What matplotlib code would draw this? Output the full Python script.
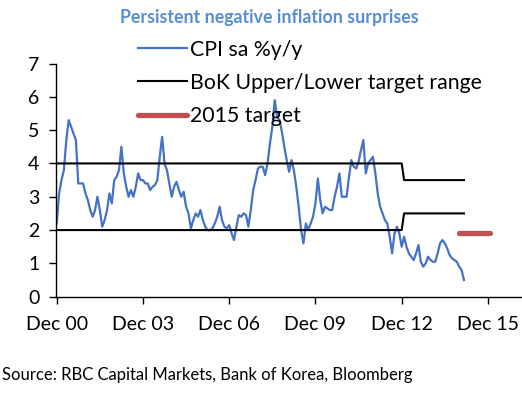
import matplotlib
matplotlib.use("Agg")
import matplotlib.pyplot as plt
from matplotlib.lines import Line2D
import numpy as np

plt.rcParams['font.family'] = ['Lato', 'DejaVu Sans']

# Monthly CPI sa %y/y, Dec 2000 .. Feb 2015
cpi = [
    2.2,                                                   # Dec 00
    3.1, 3.5, 3.8, 4.7, 5.3, 5.1, 4.9, 4.7, 3.4, 3.4, 3.4, 3.1,   # 2001
    2.9, 2.6, 2.4, 2.6, 3.0, 2.6, 2.1, 2.3, 2.6, 3.1, 2.8, 3.5,   # 2002
    3.6, 3.8, 4.5, 3.7, 3.3, 3.0, 3.2, 3.0, 3.3, 3.7, 3.5, 3.5,   # 2003
    3.4, 3.4, 3.2, 3.3, 3.35, 3.5, 4.2, 4.8, 4.0, 3.8, 3.4, 3.0,  # 2004
    3.3, 3.45, 3.2, 3.0, 3.15, 2.7, 2.5, 2.05, 2.3, 2.5, 2.4, 2.6,  # 2005
    2.3, 2.1, 2.0, 2.0, 2.05, 2.2, 2.4, 2.7, 2.3, 2.1, 2.05, 2.15,  # 2006
    1.9, 1.7, 2.1, 2.45, 2.4, 2.5, 2.45, 2.1, 2.6, 3.2, 3.5, 3.85,  # 2007
    3.9, 3.9, 3.65, 4.0, 4.6, 5.1, 5.9, 5.4, 5.3, 4.95, 4.5, 4.1,   # 2008
    3.75, 4.1, 3.8, 3.3, 2.7, 2.0, 1.6, 2.2, 2.0, 2.2, 2.4, 2.8,    # 2009
    3.55, 2.9, 2.5, 2.7, 2.65, 2.6, 2.6, 3.0, 3.3, 3.7, 3.0, 3.0,   # 2010
    3.0, 3.6, 4.1, 3.9, 3.85, 4.05, 4.4, 4.7, 3.7, 4.0, 4.1, 4.2,   # 2011
    3.7, 3.1, 2.7, 2.5, 2.3, 2.2, 1.8, 1.3, 1.9, 2.1, 1.9, 1.5,     # 2012
    1.8, 1.5, 1.3, 1.2, 1.1, 1.3, 1.55, 1.05, 0.9, 1.0, 1.2, 1.1,   # 2013
    1.05, 1.05, 1.3, 1.6, 1.7, 1.6, 1.45, 1.25, 1.15, 1.1, 1.05, 0.9,  # 2014
    0.8, 0.5,                                              # 2015
]
months = list(range(len(cpi)))

# BoK target range (upper / lower), Dec 00 .. Feb 15
bok_upper = [4.0] * 145 + [3.5] * 26
bok_lower = [2.0] * 145 + [2.5] * 26

# 2015 target
target_months = list(range(168, 182))
target_vals = [1.9] * len(target_months)

tick_months = [0, 36, 72, 108, 144, 180]
tick_labels = ["Dec 00", "Dec 03", "Dec 06", "Dec 09", "Dec 12", "Dec 15"]
y_ticks = [0, 1, 2, 3, 4, 5, 6, 7]

W, H = 522, 393
fig = plt.figure(figsize=(W / 100, H / 100), dpi=100)
ax = fig.add_axes([56 / W, 1 - 296.7 / H, (521 - 56) / W, (296.7 - 63.5) / H])

l_cpi, = ax.plot(months, cpi, color='#4472C4', lw=1.6, label='CPI sa %y/y')
l_bok, = ax.plot(months, bok_upper, color='black', lw=1.5, label='BoK Upper/Lower target range')
ax.plot(months, bok_lower, color='black', lw=1.5)
l_tgt, = ax.plot(target_months, target_vals, color='#C0504D', lw=3.8,
                 solid_capstyle='round', label='2015 target')

ax.set_xlim(-0.3, 193.8)
ax.set_ylim(0, 7)
ax.set_xticks(tick_months)
ax.set_xticklabels(tick_labels)
ax.set_yticks(y_ticks)
for s in ['top', 'right']:
    ax.spines[s].set_visible(False)
for s in ['left', 'bottom']:
    ax.spines[s].set_linewidth(1.0)
ax.tick_params(axis='both', direction='out', length=5, width=1.0, labelsize=14, colors='black')
ax.tick_params(axis='x', pad=9)
ax.tick_params(axis='y', pad=7)

fig.legend(handles=[l_cpi, l_bok, l_tgt], loc='upper left',
           bbox_to_anchor=(127 / W, 1 - 29 / H), frameon=False, fontsize=15.3,
           handlelength=2.3, handletextpad=0.15, labelspacing=0.62, borderpad=0)

fig.text(269 / W, 1 - 18 / H, "Persistent negative inflation surprises", ha='center', va='center',
         fontsize=12.8, fontweight='bold', color='#558ED5')
fig.text(2 / W, 1 - 375 / H, "Source: RBC Capital Markets, Bank of Korea, Bloomberg", ha='left',
         va='center', fontsize=12, color='black')

fig.savefig('out.png', dpi=100)
